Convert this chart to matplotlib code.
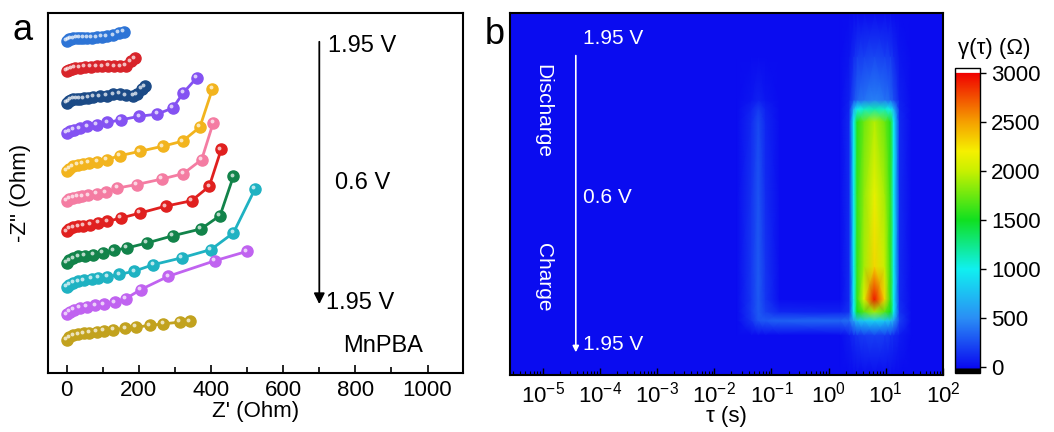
import numpy as np
import matplotlib
matplotlib.use('Agg')
import matplotlib.pyplot as plt
from matplotlib.colors import LinearSegmentedColormap, Normalize
from matplotlib.ticker import LogLocator, MultipleLocator, NullFormatter
from matplotlib.transforms import ScaledTranslation

plt.rcParams['font.family'] = ['Liberation Sans', 'DejaVu Sans']

#####---panel a: stacked Nyquist plots (1.95 V -> 0.6 V -> 1.95 V)---#####
curve_colors = ['#2d74d6', '#d8242a', '#1b4a86', '#8452f2', '#f2b41e', '#f47ca2',
                '#e0201f', '#12834a', '#1fb2c2', '#c063f0', '#c2a21e']
offsets = [919, 837, 748, 665, 559, 476, 392, 305, 238, 162, 92]

z_re = [
    [0, 5, 11, 18, 28, 37, 46, 57, 69, 83, 97, 111, 129, 145, 159],
    [0, 5, 14, 23, 37, 51, 66, 83, 99, 115, 132, 149, 164, 177, 189],
    [0, 5, 11, 18, 28, 37, 48, 60, 74, 92, 111, 129, 148, 164, 185, 194, 208, 217],
    [0, 9, 20, 37, 57, 83, 113, 150, 201, 251, 294, 323, 360],
    [0, 7, 17, 30, 44, 62, 85, 111, 148, 203, 266, 321, 369, 404],
    [0, 7, 18, 30, 43, 60, 83, 109, 140, 194, 263, 323, 374, 406],
    [0, 7, 18, 32, 46, 65, 88, 113, 150, 203, 274, 346, 395, 428],
    [0, 7, 18, 32, 51, 74, 100, 131, 166, 222, 294, 372, 425, 462],
    [0, 7, 18, 32, 48, 69, 88, 113, 146, 187, 240, 319, 400, 462, 522],
    [0, 9, 20, 37, 55, 79, 103, 134, 164, 205, 282, 411, 500],
    [0, 7, 18, 32, 48, 63, 83, 103, 129, 162, 192, 231, 268, 314, 342],
]
z_im = [
    [0, 5, 7, 8, 9, 9, 9, 10, 10, 11, 12, 13, 16, 23, 26],
    [0, 3, 6, 8, 9, 10, 11, 12, 12, 13, 12, 12, 14, 26, 34],
    [0, 4, 9, 11, 12, 12, 13, 14, 16, 18, 20, 24, 25, 21, 19, 24, 39, 46],
    [0, 4, 9, 13, 18, 23, 29, 36, 46, 52, 69, 111, 152],
    [0, 7, 13, 18, 21, 23, 25, 32, 43, 55, 69, 83, 122, 228],
    [0, 6, 9, 11, 13, 16, 21, 24, 36, 46, 61, 76, 115, 217],
    [0, 7, 11, 14, 16, 19, 24, 28, 37, 51, 70, 85, 125, 227],
    [0, 7, 13, 18, 20, 23, 27, 35, 41, 55, 75, 94, 131, 240],
    [0, 7, 12, 16, 19, 23, 26, 28, 35, 44, 62, 81, 104, 150, 272],
    [0, 7, 13, 18, 21, 25, 28, 34, 44, 69, 106, 149, 175],
    [0, 7, 12, 15, 18, 19, 22, 24, 27, 32, 35, 40, 44, 49, 51],
]

#####---panel b: DRT map, gamma(tau) vs log tau and charge state---#####
log_tau = [-5.57, -1.6, -1.35, -1.23, -1.1, -0.85,
           0.2, 0.36, 0.44, 0.50, 0.62, 0.8, 0.98, 1.08, 1.14, 1.24, 1.45, 2.0]
state = [0.0, 0.11, 0.15, 0.175, 0.21, 0.30, 0.50, 0.70, 0.735, 0.76, 0.88, 1.0]
gamma = [
    [0, 0, 0, 0, 0, 0, 0, 0, 0, 0, 0, 0, 0, 0, 0, 0, 0, 0],
    [0, 0, 0, 0, 0, 0, 0, 60, 120, 150, 180, 200, 180, 150, 120, 60, 0, 0],
    [0, 0, 150, 280, 300, 330, 350, 380, 600, 750, 800, 850, 800, 750, 600, 200, 0, 0],
    [0, 0, 180, 300, 200, 100, 80, 150, 1000, 1500, 1700, 1900, 1700, 1500, 1000, 150, 0, 0],
    [0, 0, 170, 300, 160, 0, 0, 120, 1000, 1600, 2100, 2950, 2300, 1600, 1000, 120, 0, 0],
    [0, 0, 170, 300, 150, 0, 0, 120, 1000, 1600, 1900, 2300, 2000, 1600, 1000, 120, 0, 0],
    [0, 0, 150, 280, 120, 0, 0, 120, 1000, 1600, 1850, 2150, 1900, 1600, 1000, 120, 0, 0],
    [0, 0, 120, 240, 100, 0, 0, 120, 1000, 1550, 1750, 1950, 1750, 1550, 1000, 120, 0, 0],
    [0, 0, 90, 180, 80, 0, 0, 100, 700, 1000, 1100, 1150, 1100, 1000, 700, 100, 0, 0],
    [0, 0, 40, 80, 40, 0, 0, 80, 250, 350, 400, 450, 400, 350, 250, 80, 0, 0],
    [0, 0, 0, 0, 0, 0, 0, 40, 120, 180, 200, 230, 200, 180, 120, 40, 0, 0],
    [0, 0, 0, 0, 0, 0, 0, 0, 0, 0, 0, 0, 0, 0, 0, 0, 0, 0],
]
cbar_ticks = [0, 500, 1000, 1500, 2000, 2500, 3000]

fig = plt.figure(figsize=(10.54, 4.32), dpi=100)

# ---- a ----
ax = fig.add_axes([0.0455, 0.1366, 0.3937, 0.8333])
hl = ScaledTranslation(-1.2/72, 1.2/72, fig.dpi_scale_trans)
for x, y, off, c in zip(z_re, z_im, offsets, curve_colors):
    yy = np.array(y) + off
    ax.plot(x, yy, '-', color=c, lw=2, marker='o', ms=8, mfc=c, mec=c, zorder=3)
    ax.plot(x, yy, 'o', color='white', ms=2.8, alpha=0.7, mec='none',
            transform=ax.transData + hl, zorder=4)

ax.set_xlim(-52, 1098)
ax.set_ylim(0, 997)
ax.xaxis.set_major_locator(MultipleLocator(200))
ax.xaxis.set_minor_locator(MultipleLocator(100))
ax.tick_params(axis='x', which='major', direction='in', length=6, width=1.2, labelsize=16, pad=5)
ax.tick_params(axis='x', which='minor', direction='in', length=4, width=1.2)
ax.set_yticks([])
for s in ax.spines.values():
    s.set_linewidth(1.5)
ax.set_xlabel("Z' (Ohm)", fontsize=16, labelpad=0)
ax.set_ylabel('-Z" (Ohm)', fontsize=16, labelpad=12)

ax.annotate('', xy=(700, 183), xytext=(700, 925),
            arrowprops=dict(arrowstyle='-|>', color='k', lw=1.3, mutation_scale=16))
ax.text(725, 905, '1.95 V', fontsize=17, va='center', ha='left')
ax.text(743, 526, '0.6 V', fontsize=17, va='center', ha='left')
ax.text(718, 194, '1.95 V', fontsize=17, va='center', ha='left')
ax.text(766, 74, 'MnPBA', fontsize=17, va='center', ha='left')
fig.text(0.012, 0.93, 'a', fontsize=26, va='center', ha='left')

# ---- b ----
vmin, vmax = -60, 3050
def pos(v):
    return (v - vmin) / (vmax - vmin)
cmap = LinearSegmentedColormap.from_list('drt', [
    (0.0, 'black'), (pos(-20), 'black'), (pos(-8), '#0808f0'), (pos(0), '#0a0cf0'),
    (pos(500), '#2a8ef5'), (pos(1000), '#10f0f0'), (pos(1500), '#10e020'),
    (pos(2000), '#c8f000'), (pos(2200), '#f5f000'), (pos(2500), '#f5a000'),
    (pos(3000), '#f00000'), (pos(3005), 'white'), (1.0, 'white')], N=2048)
norm = Normalize(vmin=vmin, vmax=vmax)

bx = fig.add_axes([0.4839, 0.132, 0.4108, 0.838])
tau = 10.0 ** np.array(log_tau)
T, S = np.meshgrid(tau, state)
mesh = bx.pcolormesh(T, S, np.array(gamma, dtype=float), cmap=cmap, norm=norm, shading='gouraud')
bx.set_xscale('log')
bx.set_xlim(10 ** -5.57, 1e2)
bx.set_ylim(0, 1)
bx.set_yticks([])
bx.xaxis.set_major_locator(LogLocator(base=10, numticks=20))
bx.xaxis.set_minor_locator(LogLocator(base=10, subs=np.arange(2, 10), numticks=20))
bx.xaxis.set_minor_formatter(NullFormatter())
bx.tick_params(axis='x', which='major', direction='in', length=5, width=1, labelsize=16, pad=5)
bx.tick_params(axis='x', which='minor', direction='in', length=3, width=0.8)
for s in bx.spines.values():
    s.set_linewidth(1.5)
bx.set_xlabel('τ (s)', fontsize=16, labelpad=-1)

bx.annotate('', xy=(10 ** -4.42, 0.055), xytext=(10 ** -4.42, 0.89),
            arrowprops=dict(arrowstyle='-|>', color='white', lw=1.2, mutation_scale=9))
bx.text(10 ** -4.3, 0.93, '1.95 V', color='white', fontsize=15, va='center', ha='left')
bx.text(10 ** -4.3, 0.49, '0.6 V', color='white', fontsize=15, va='center', ha='left')
bx.text(10 ** -4.3, 0.083, '1.95 V', color='white', fontsize=15, va='center', ha='left')
bx.text(10 ** -4.99, 0.73, 'Discharge', color='white', fontsize=15, va='center', ha='center',
        rotation=270)
bx.text(10 ** -4.99, 0.27, 'Charge', color='white', fontsize=15, va='center', ha='center',
        rotation=270)
fig.text(0.46, 0.92, 'b', fontsize=26, va='center', ha='left')

cax = fig.add_axes([0.906, 0.1366, 0.0237, 0.706])
cb = fig.colorbar(mesh, cax=cax, ticks=cbar_ticks)
cb.outline.set_linewidth(1)
cax.tick_params(direction='out', length=4, width=1, labelsize=16, pad=4)
fig.text(0.943, 0.888, 'γ(τ) (Ω)', fontsize=16, va='center', ha='center')

fig.savefig('out.png', dpi=100)
